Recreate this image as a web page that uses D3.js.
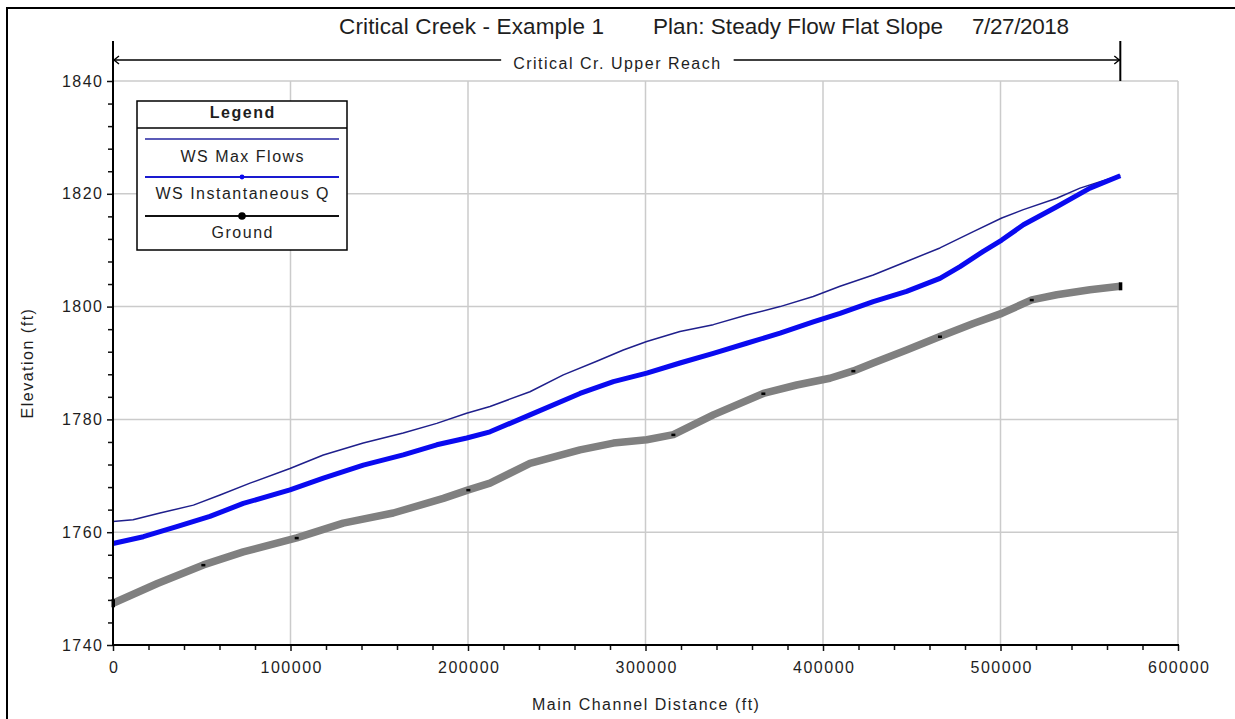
<!DOCTYPE html>
<html>
<head>
<meta charset="utf-8">
<script src="https://cdn.jsdelivr.net/npm/d3@7"></script>
<style>
  html, body { margin: 0; padding: 0; background: #fff; overflow: hidden; }
  svg { display: block; }
  text { font-family: "Liberation Sans", Arial, sans-serif; fill: #1e1e1e; }
</style>
</head>
<body>
<svg id="chart" width="1235" height="719"></svg>
<script>
// ---- Chart text ----
const titleParts = ["Critical Creek - Example 1", "Plan: Steady Flow Flat Slope", "7/27/2018"];
const reachName = "Critical Cr. Upper Reach";
const xLabel = "Main Channel Distance (ft)";
const yLabel = "Elevation (ft)";
const legendTitle = "Legend";
const seriesNames = ["WS Max Flows", "WS Instantaneous Q", "Ground"];

// ---- Axes ----
const xTicks = [0, 100000, 200000, 300000, 400000, 500000, 600000];
const yTicks = [1740, 1760, 1780, 1800, 1820, 1840];
const reachStart = 0;
const reachEnd = 567500;

// ---- Profile data: [main channel distance (ft), elevation (ft)] ----
const wsMaxFlows = [
  [0, 1761.9], [11300, 1762.2], [26500, 1763.4], [45300, 1764.8], [60300, 1766.6],
  [77200, 1768.7], [99700, 1771.3], [118500, 1773.7], [141000, 1775.8], [163500, 1777.6],
  [182400, 1779.3], [199200, 1781.1], [212400, 1782.3], [234900, 1784.9], [253700, 1787.9],
  [272500, 1790.3], [287500, 1792.3], [300700, 1793.8], [319400, 1795.6], [338200, 1796.8],
  [357000, 1798.5], [375800, 1800.0], [394500, 1801.8], [409600, 1803.6], [428300, 1805.6],
  [447100, 1808.0], [465900, 1810.4], [484700, 1813.3], [500700, 1815.7], [512900, 1817.2],
  [531700, 1819.2], [544800, 1821.0], [567500, 1823.3]
];

const wsInstantaneousQ = [
  [0, 1758.0], [17100, 1759.2], [35900, 1761.0], [54600, 1762.8], [73400, 1765.1],
  [99700, 1767.5], [118500, 1769.6], [141000, 1771.9], [163500, 1773.7], [182400, 1775.5],
  [199300, 1776.7], [212400, 1777.8], [234900, 1780.8], [263100, 1784.6], [281900, 1786.7],
  [300700, 1788.2], [319400, 1790.0], [338200, 1791.7], [357000, 1793.5], [375800, 1795.3],
  [394500, 1797.3], [409600, 1798.8], [428300, 1800.9], [447100, 1802.7], [465900, 1805.0],
  [477200, 1807.1], [490300, 1809.8], [500700, 1811.8], [512900, 1814.5], [531700, 1817.7],
  [550400, 1821.0], [567500, 1823.2]
];

const ground = [
  [0, 1747.4], [25000, 1750.9], [50900, 1754.2], [73400, 1756.5], [103500, 1759.0],
  [129700, 1761.6], [157900, 1763.4], [186100, 1766.0], [200200, 1767.5], [212400, 1768.7],
  [234900, 1772.2], [263100, 1774.6], [281900, 1775.8], [300700, 1776.4], [315700, 1777.3],
  [338200, 1780.8], [366400, 1784.6], [385200, 1786.1], [403900, 1787.3], [417100, 1788.6],
  [428300, 1790.0], [447100, 1792.3], [465900, 1794.7], [484700, 1797.0], [500700, 1798.8],
  [517600, 1801.2], [531700, 1802.1], [550400, 1803.0], [567500, 1803.6]
];

// Ground stations that carry a visible point marker
const groundMarkerStations = [50900, 103500, 200200, 315700, 366400, 417100, 465900, 517600];

// ---- Layout ----
const svg = d3.select("#chart");
const plot = { left: 113, right: 1178, top: 81, bottom: 645 };
const fontSize = 16, spacing = 1.5;

const x = d3.scaleLinear().domain([0, 600000]).range([plot.left, plot.right]);
const y = d3.scaleLinear().domain([1740, 1840]).range([plot.bottom, plot.top]);

// Outer frame (only the top and left edges fall inside the page)
svg.append("rect")
  .attr("x", 7).attr("y", 8).attr("width", 1400).attr("height", 900)
  .attr("fill", "none").attr("stroke", "#000").attr("stroke-width", 2);

// Gridlines
const grid = svg.append("g").attr("stroke", "#cbcbcb").attr("stroke-width", 1.5);
grid.selectAll(".gx").data(xTicks.slice(1)).join("line")
  .attr("x1", d => x(d)).attr("x2", d => x(d))
  .attr("y1", plot.top).attr("y2", plot.bottom);
grid.selectAll(".gy").data(yTicks.slice(1)).join("line")
  .attr("x1", plot.left).attr("x2", plot.right)
  .attr("y1", d => y(d)).attr("y2", d => y(d));

// Series lines
const line = d3.line().x(d => x(d[0])).y(d => y(d[1]));

svg.append("path").datum(ground)
  .attr("d", line).attr("fill", "none")
  .attr("stroke", "#808080").attr("stroke-width", 7.5)
  .attr("stroke-linejoin", "round");

svg.append("g").selectAll("rect")
  .data(ground.filter(d => groundMarkerStations.includes(d[0])))
  .join("rect")
  .attr("x", d => x(d[0]) - 2).attr("y", d => y(d[1]) - 1)
  .attr("width", 4).attr("height", 2.5).attr("fill", "#000");

// End markers of the ground profile
svg.append("g").selectAll("rect")
  .data([ground[0], ground[ground.length - 1]])
  .join("rect")
  .attr("x", d => x(d[0]) - 1.5).attr("y", d => y(d[1]) - 4)
  .attr("width", 3.5).attr("height", 8).attr("fill", "#000");

svg.append("path").datum(wsMaxFlows)
  .attr("d", line).attr("fill", "none")
  .attr("stroke", "#1f1f8c").attr("stroke-width", 1.5)
  .attr("stroke-linejoin", "round");

svg.append("path").datum(wsInstantaneousQ)
  .attr("d", line).attr("fill", "none")
  .attr("stroke", "#0a0af0").attr("stroke-width", 5)
  .attr("stroke-linejoin", "round");

// Axes
function minorValues(step, lo, hi, majors) {
  return d3.range(lo, hi + step / 2, step).filter(v => !majors.some(m => Math.abs(m - v) < 1e-6));
}

const xAxisG = svg.append("g").attr("transform", `translate(0,${plot.bottom})`);
xAxisG.call(d3.axisBottom(x).tickValues(xTicks).tickFormat(d3.format("d")).tickSize(6).tickPadding(11));
const xMinor = svg.append("g").attr("transform", `translate(0,${plot.bottom})`);
xMinor.call(d3.axisBottom(x).tickValues(minorValues(20000, 0, 600000, xTicks)).tickFormat("").tickSize(5));

const yAxisG = svg.append("g").attr("transform", `translate(${plot.left},0)`);
yAxisG.call(d3.axisLeft(y).tickValues(yTicks).tickFormat(d3.format("d")).tickSize(6).tickPadding(5));
const yMinor = svg.append("g").attr("transform", `translate(${plot.left},0)`);
yMinor.call(d3.axisLeft(y).tickValues(minorValues(4, 1740, 1840, yTicks)).tickFormat("").tickSize(5));

[xAxisG, yAxisG, xMinor, yMinor].forEach(g => {
  g.select(".domain").remove();
  g.selectAll(".tick line").attr("stroke", "#111").attr("stroke-width", 1.5);
  g.selectAll(".tick text")
    .attr("font-size", fontSize).attr("letter-spacing", spacing)
    .attr("font-family", null).attr("fill", "#1e1e1e");
});
xAxisG.selectAll(".tick text").attr("dx", spacing / 2);
yAxisG.selectAll(".tick text").attr("dx", spacing);

// Axis lines (left axis continues up as the reach marker)
svg.append("line")
  .attr("x1", plot.left).attr("x2", plot.right + 1)
  .attr("y1", plot.bottom).attr("y2", plot.bottom)
  .attr("stroke", "#000").attr("stroke-width", 2);
svg.append("line")
  .attr("x1", plot.left).attr("x2", plot.left)
  .attr("y1", 41).attr("y2", plot.bottom + 1)
  .attr("stroke", "#000").attr("stroke-width", 2);

// Axis titles
svg.append("text")
  .attr("x", (plot.left + plot.right) / 2 + spacing / 2).attr("y", 710)
  .attr("text-anchor", "middle").attr("font-size", fontSize).attr("letter-spacing", spacing)
  .text(xLabel);
svg.append("text")
  .attr("transform", `translate(33,${(plot.top + plot.bottom) / 2}) rotate(-90)`)
  .attr("text-anchor", "middle").attr("font-size", fontSize).attr("letter-spacing", spacing)
  .text(yLabel);

// Title, in three separately placed parts
const titleX = [339, 653, 972];
const titleW = [265, 290, 97];
svg.append("g").selectAll("text").data(titleParts).join("text")
  .attr("x", (d, i) => titleX[i]).attr("y", 34)
  .attr("font-size", 22.5)
  .attr("textLength", (d, i) => titleW[i]).attr("lengthAdjust", "spacing")
  .text(d => d);

// Reach marker
const rx0 = x(reachStart), rx1 = x(reachEnd), ry = 60;
const reach = svg.append("g").attr("stroke", "#000");
reach.append("line").attr("x1", rx1).attr("x2", rx1).attr("y1", 41).attr("y2", plot.top)
  .attr("stroke-width", 2);
const reachText = svg.append("text")
  .attr("x", (rx0 + rx1) / 2 + spacing / 2).attr("y", 69)
  .attr("text-anchor", "middle").attr("font-size", fontSize).attr("letter-spacing", spacing)
  .text(reachName);
const bb = reachText.node().getBBox();
reach.append("line").attr("x1", rx0).attr("x2", bb.x - 12).attr("y1", ry).attr("y2", ry)
  .attr("stroke-width", 1.6);
reach.append("line").attr("x1", bb.x + bb.width + 12).attr("x2", rx1).attr("y1", ry).attr("y2", ry)
  .attr("stroke-width", 1.6);
reach.append("polyline").attr("fill", "none").attr("stroke-width", 1.4)
  .attr("points", `${rx0 + 6},${ry - 4} ${rx0 + 1},${ry} ${rx0 + 6},${ry + 4}`);
reach.append("polyline").attr("fill", "none").attr("stroke-width", 1.4)
  .attr("points", `${rx1 - 6},${ry - 4} ${rx1 - 1},${ry} ${rx1 - 6},${ry + 4}`);

// Legend
const lg = { x: 137, y: 101, w: 210, h: 149 };
const legend = svg.append("g");
legend.append("rect")
  .attr("x", lg.x).attr("y", lg.y).attr("width", lg.w).attr("height", lg.h)
  .attr("fill", "#fff").attr("stroke", "#000").attr("stroke-width", 1.5);
legend.append("line")
  .attr("x1", lg.x).attr("x2", lg.x + lg.w).attr("y1", 128).attr("y2", 128)
  .attr("stroke", "#000").attr("stroke-width", 1.5);
const lcx = lg.x + lg.w / 2;
legend.append("text")
  .attr("x", lcx + spacing / 2).attr("y", 118).attr("text-anchor", "middle")
  .attr("font-size", fontSize).attr("font-weight", "bold").attr("letter-spacing", spacing)
  .text(legendTitle);

const legendLineY = [139, 177, 216];
const legendTextY = [161.5, 199, 238];
const legendStroke = ["#2525a0", "#1a1ad0", "#111"];
const legendWidth = [1.5, 1.8, 2];
seriesNames.forEach((name, i) => {
  legend.append("line")
    .attr("x1", 145).attr("x2", 339).attr("y1", legendLineY[i]).attr("y2", legendLineY[i])
    .attr("stroke", legendStroke[i]).attr("stroke-width", legendWidth[i]);
  legend.append("text")
    .attr("x", lcx + spacing / 2).attr("y", legendTextY[i]).attr("text-anchor", "middle")
    .attr("font-size", fontSize).attr("letter-spacing", spacing)
    .text(name);
});
legend.append("circle").attr("cx", 242).attr("cy", legendLineY[1]).attr("r", 2.4).attr("fill", "#0a0af0");
legend.append("circle").attr("cx", 242).attr("cy", legendLineY[2]).attr("r", 3.8).attr("fill", "#000");
</script>
</body>
</html>
